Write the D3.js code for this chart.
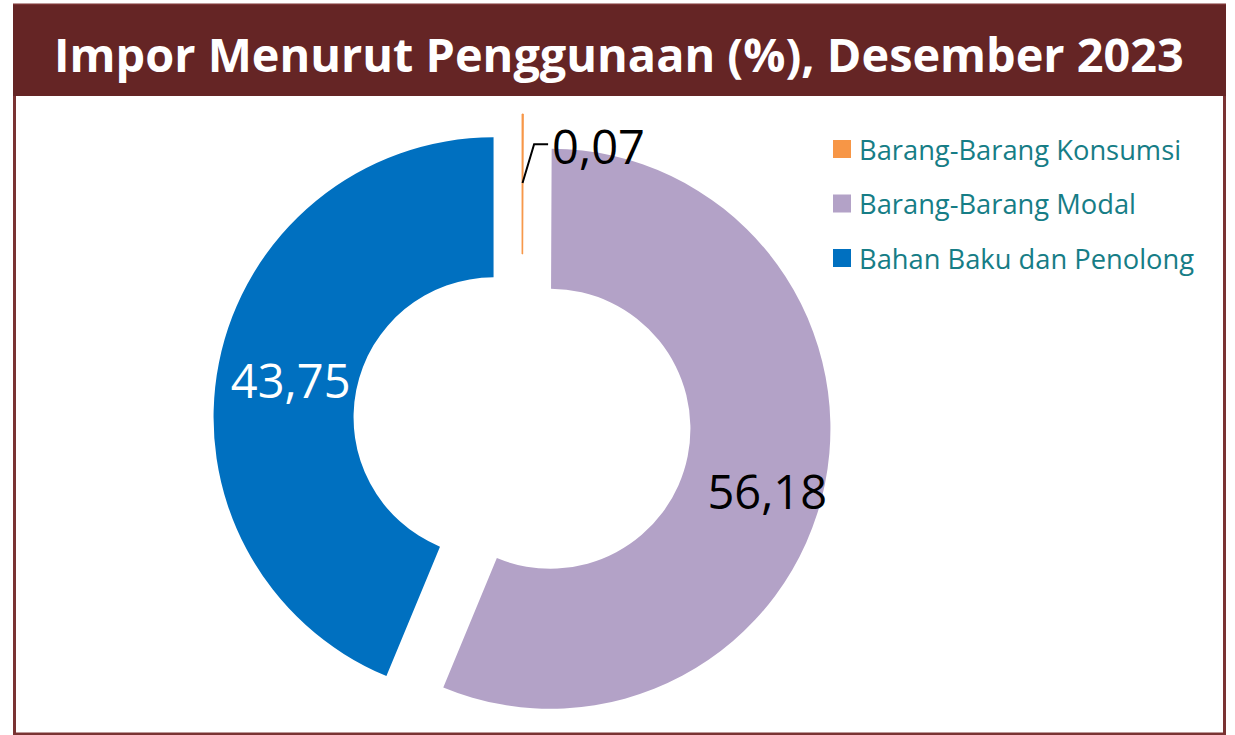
<!DOCTYPE html>
<html>
<head>
<meta charset="utf-8">
<script src="https://cdn.jsdelivr.net/npm/d3@7"></script>
<style>
  body { margin: 0; background: #ffffff; }
  text { font-family: "Open Sans", "Noto Sans", sans-serif; }
</style>
</head>
<body>
<div class="chart"></div>
<script>
// DATA
const TITLE = "Impor Menurut Penggunaan (%), Desember 2023";
const CATEGORIES = ["Barang-Barang Konsumsi", "Barang-Barang Modal", "Bahan Baku dan Penolong"];
const VALUES = [0.07, 56.18, 43.75];
const VALUE_LABELS = ["0,07", "56,18", "43,75"];
const COLORS = ["#F79646", "#B3A2C7", "#0070C0"];

// GLOBAL CONSTANTS
const FRAME_WIDTH = 1235;
const FRAME_HEIGHT = 735;
const CENTER = {x: 522, y: 423};
const OUTER_R = 280;
const INNER_R = 140;
const EXPLODE = 29;
const MAROON = "#652525";

const SVG = d3.select(".chart")
  .append("svg")
    .attr("width", FRAME_WIDTH)
    .attr("height", FRAME_HEIGHT);

// FRAME + TITLE BAND
SVG.append("rect")
  .attr("x", 14.5).attr("y", 5)
  .attr("width", 1210).attr("height", 729)
  .attr("fill", "none")
  .attr("stroke", "#7a3333")
  .attr("stroke-width", 3);

SVG.append("rect")
  .attr("x", 13).attr("y", 5)
  .attr("width", 1213).attr("height", 91)
  .attr("fill", MAROON);

const title = SVG.append("text")
  .attr("x", 619).attr("y", 72)
  .attr("text-anchor", "middle")
  .attr("fill", "#ffffff")
  .attr("font-weight", "bold")
  .attr("font-size", 50)
  .text(TITLE);
// fit the title width to the band like the original
const tw = title.node().getComputedTextLength();
title.attr("font-size", 50 * 1130 / tw);

// DONUT
const pie = d3.pie().sort(null).value(d => d);
const arcs = pie(VALUES);

const arc = d3.arc().innerRadius(INNER_R).outerRadius(OUTER_R);
const labelArc = d3.arc().innerRadius(215).outerRadius(215);
const NUDGE = [[0, 0], [6, 20], [8, 5]];

function offset(d) {
  const mid = (d.startAngle + d.endAngle) / 2;
  return [CENTER.x + EXPLODE * Math.sin(mid), CENTER.y - EXPLODE * Math.cos(mid)];
}

const slices = SVG.selectAll(".slice")
  .data(arcs)
  .enter()
  .append("g")
    .attr("class", "slice")
    .attr("transform", d => "translate(" + offset(d) + ")");

slices.append("path")
  .attr("d", arc)
  .attr("fill", (d, i) => COLORS[i])
  .attr("stroke", (d, i) => i === 0 ? COLORS[i] : "none")
  .attr("stroke-width", 1);

// labels go in their own layer so they sit above every slice
const labels = SVG.selectAll(".label")
  .data(arcs)
  .enter()
  .append("g")
    .attr("class", "label")
    .attr("transform", d => "translate(" + offset(d) + ")");

labels.filter((d, i) => i > 0)
  .append("text")
    .attr("transform", d => {
      const c = labelArc.centroid(d);
      const n = NUDGE[d.index];
      return "translate(" + (c[0] + n[0]) + "," + (c[1] + n[1]) + ")";
    })
    .attr("text-anchor", "middle")
    .attr("dominant-baseline", "central")
    .attr("font-size", 47)
    .attr("fill", d => d.index === 2 ? "#ffffff" : "#000000")
    .text(d => VALUE_LABELS[d.index]);

// outside label with leader for the tiny slice
const small = labels.filter((d, i) => i === 0);
const lineStart = d3.arc().innerRadius(211).outerRadius(211);
const lineElbow = d3.arc().innerRadius(250).outerRadius(250);
const elbow = d => lineElbow.centroid({startAngle: d.startAngle + 0.046, endAngle: d.endAngle + 0.046});
small.append("polyline")
  .attr("points", d => {
    const p0 = lineStart.centroid(d);
    const p1 = elbow(d);
    const p2 = [p1[0] + 14, p1[1]];
    return [p0, p1, p2].join(" ");
  })
  .attr("fill", "none")
  .attr("stroke", "#000000")
  .attr("stroke-width", 2);
small.append("text")
  .attr("transform", d => {
    const p1 = elbow(d);
    return "translate(" + (p1[0] + 18) + "," + (p1[1] + 2) + ")";
  })
  .attr("text-anchor", "start")
  .attr("dominant-baseline", "central")
  .attr("font-size", 47)
  .attr("fill", "#000000")
  .text(VALUE_LABELS[0]);

// LEGEND
const legend = SVG.selectAll(".legend")
  .data(CATEGORIES)
  .enter()
  .append("g")
    .attr("class", "legend")
    .attr("transform", (d, i) => "translate(833," + (149 + i * 54.5) + ")");

legend.append("rect")
  .attr("x", 0).attr("y", -9)
  .attr("width", 18).attr("height", 18)
  .attr("fill", (d, i) => COLORS[i]);

legend.append("text")
  .attr("x", 26).attr("y", 0)
  .attr("dominant-baseline", "central")
  .attr("font-size", 27.3)
  .attr("fill", "#167D86")
  .text(d => d);
</script>
</body>
</html>
